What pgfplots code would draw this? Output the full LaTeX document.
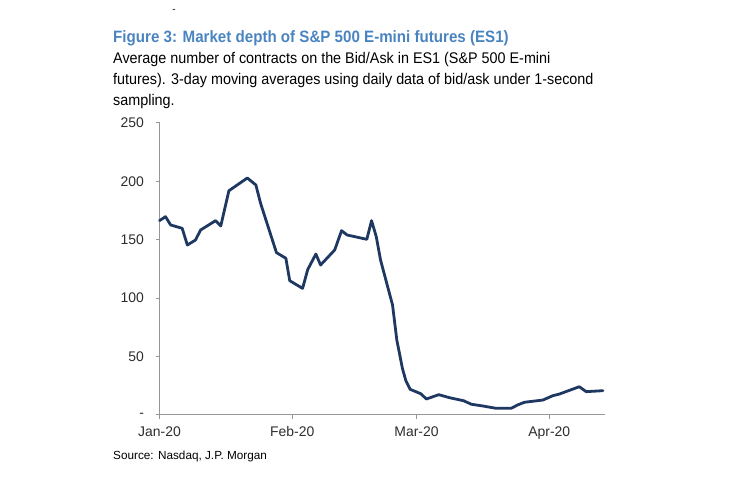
\documentclass[border=0pt]{standalone}
\usepackage{fontspec}
\setmainfont{Liberation Sans}
\newfontfamily\titlefont{Liberation Sans}[FakeStretch=0.92]
\newfontfamily\subfont{Liberation Sans}[FakeStretch=0.93]
\usepackage{pgfplots}
\pgfplotsset{compat=1.18}
\definecolor{linenavy}{RGB}{31,56,98}
\definecolor{titleblue}{RGB}{74,132,192}
\definecolor{axisgray}{RGB}{150,150,150}
\definecolor{labelgray}{RGB}{45,45,45}
\begin{document}
\begin{tikzpicture}[x=1bp,y=1bp]
\path[use as bounding box] (0,0) rectangle (740,491);
% heading block
\node[anchor=base, font=\fontsize{10}{12}\selectfont] at (174,478) {-};
\node[anchor=base west, inner sep=0pt, text=titleblue,
  font=\titlefont\fontsize{16.5}{19}\selectfont\bfseries] at (113,448)
  {Figure 3: Market depth of S\&P 500 E-mini futures (ES1)};
\node[anchor=base west, inner sep=0pt, font=\subfont\fontsize{15.5}{18}\selectfont] at (113,427)
  {Average number of contracts on the Bid/Ask in ES1 (S\&P 500 E-mini};
\node[anchor=base west, inner sep=0pt, font=\subfont\fontsize{15.5}{18}\selectfont] at (113,406)
  {futures). 3-day moving averages using daily data of bid/ask under 1-second};
\node[anchor=base west, inner sep=0pt, font=\subfont\fontsize{15.5}{18}\selectfont] at (113,385)
  {sampling.};
\node[anchor=base west, inner sep=0pt, font=\fontsize{11.8}{14}\selectfont] at (113,31)
  {Source: Nasdaq, J.P. Morgan};
\begin{axis}[
    at={(159.5bp,76bp)}, anchor=south west,
    scale only axis,
    width=445.5bp, height=292bp,
    xmin=0, xmax=104,
    ymin=0, ymax=250,
    axis lines=left,
    axis line style={draw=axisgray, line width=1pt, -},
    tick style={draw=axisgray, line width=1pt},
    tick align=outside,
    major tick length=4bp,
    xtick={0,31,60,91},
    xticklabels={Jan-20,Feb-20,Mar-20,Apr-20},
    ytick={0,50,100,150,200,250},
    yticklabels={-,50,100,150,200,250},
    ticklabel style={font=\fontsize{14}{16}\selectfont, text=labelgray},
    xticklabel style={yshift=-4bp},
    yticklabel style={xshift=-8bp},
    /pgf/number format/assume math mode=true,
    clip=false,
]
\addplot[linenavy, line width=2.8bp, line join=round, line cap=round] coordinates {
(0,166.4) (1.4,169.8) (2.6,162.7) (5.3,159.8) (6.5,145.5) (8.4,149.8)
(9.6,158.4) (13.1,166.4) (14.3,161.8) (16.2,192) (20.5,202.9) (22.5,196.9)
(23.6,181.2) (27.3,139) (29.5,134.2) (30.4,115) (33.4,108.4) (34.6,124.5)
(36.5,137.8) (37.6,128.4) (40.9,141.3) (42.5,157.8) (43.8,154.1) (48.4,150.4)
(49.5,166.4) (50.6,152.7) (51.6,132.7) (54.4,94.2) (55.4,64.2) (56.7,40)
(57.5,29.5) (58.5,22) (61,18.2) (62.3,13.7) (65.2,17.4) (67.7,14.8)
(71,12.2) (72.8,9.2) (75.5,7.7) (78.6,5.7) (82.1,5.7) (83.6,8.6)
(85.2,10.9) (89.5,12.8) (91.8,16.5) (93.4,18) (98,24.2) (99.6,20)
(103.5,20.8)
};
\end{axis}
\end{tikzpicture}
\end{document}
